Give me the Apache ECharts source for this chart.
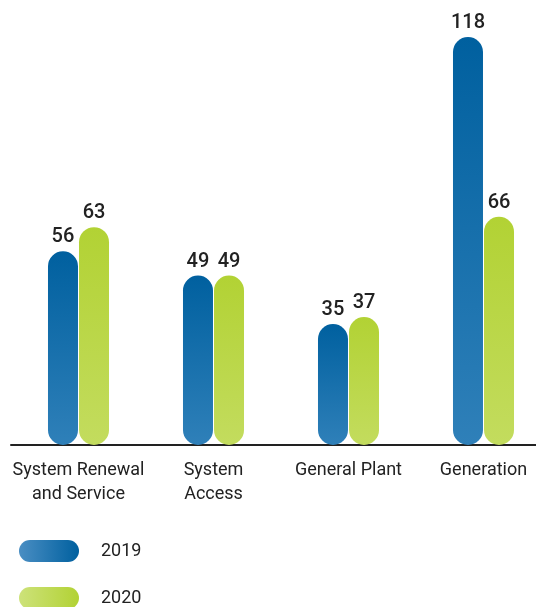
<!DOCTYPE html>
<html>
<head>
<meta charset="utf-8">
<script src="https://cdn.jsdelivr.net/npm/echarts@6/dist/echarts.min.js"></script>
<style>
html,body{margin:0;padding:0;background:#fff;}
#c{width:536px;height:607px;}
</style>
</head>
<body>
<div id="c"></div>
<script>
var categories = ['System Renewal\nand Service', 'System\nAccess', 'General Plant', 'Generation'];
var seriesNames = ['2019', '2020'];
var values2019 = [56, 49, 35, 118];
var values2020 = [63, 49, 37, 66];

var FONT = 'Roboto';
function vgrad(top, bottom) {
  return new echarts.graphic.LinearGradient(0, 0, 0, 1, [{offset: 0, color: top}, {offset: 1, color: bottom}]);
}
function hgrad(left, right) {
  return new echarts.graphic.LinearGradient(0, 0, 1, 0, [{offset: 0, color: left}, {offset: 1, color: right}]);
}
var pill = 'path://M11,0 L49,0 A11,11 0 0 1 49,22 L11,22 A11,11 0 0 1 11,0 Z';

function legendAt(top, name, color) {
  return {
    orient: 'vertical', left: 14, top: top, itemWidth: 60, itemHeight: 22,
    textStyle: {fontFamily: FONT, fontSize: 18, color: '#222', padding: [0, 0, 0, 17]},
    data: [{name: name, icon: pill, itemStyle: {color: color}}],
    selectedMode: false
  };
}

var chart = echarts.init(document.getElementById('c'));
var labelStyle = {show: true, position: 'top', distance: 4, fontFamily: FONT, fontSize: 20, fontWeight: 500, color: '#222'};
chart.setOption({
  animation: false,
  grid: {left: 11, width: 540, top: 37, bottom: 162, outerBoundsMode: 'none', containLabel: false},
  xAxis: {
    type: 'category', data: categories,
    axisLine: {show: true, lineStyle: {color: '#222', width: 2}},
    axisTick: {show: false},
    axisLabel: {fontFamily: FONT, fontSize: 18, color: '#222', lineHeight: 24, margin: 13, interval: 0}
  },
  yAxis: {type: 'value', min: 0, max: 118, show: false, splitLine: {show: false}},
  legend: [
    legendAt(535, seriesNames[0], hgrad('#4a8ec3', '#00609f')),
    legendAt(582, seriesNames[1], hgrad('#cde27a', '#b2d234'))
  ],
  series: [
    {name: seriesNames[0], type: 'bar', data: values2019, barWidth: 30, barGap: '3.4%',
     itemStyle: {color: vgrad('#00609f', '#2f80b9'), borderRadius: 15}, label: labelStyle},
    {name: seriesNames[1], type: 'bar', data: values2020, barWidth: 30,
     itemStyle: {color: vgrad('#b2d234', '#c3dc5e'), borderRadius: 15}, label: labelStyle}
  ]
});
</script>
</body>
</html>
